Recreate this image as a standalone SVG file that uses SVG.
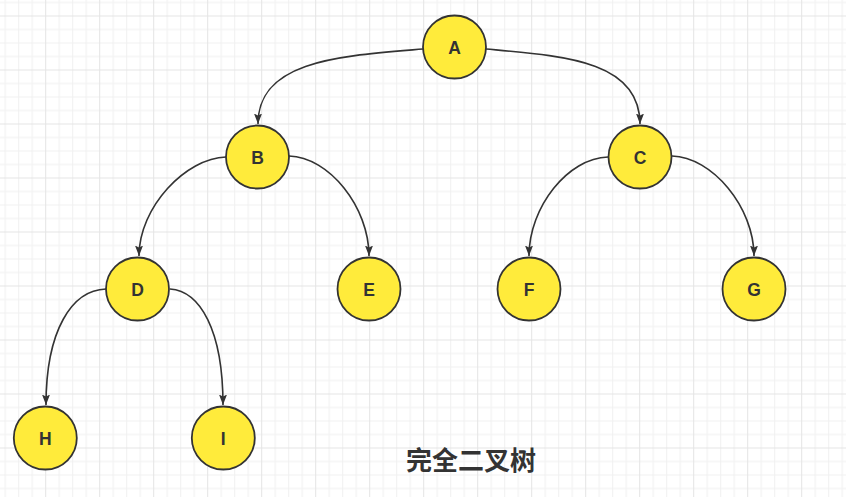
<svg xmlns="http://www.w3.org/2000/svg" width="846" height="497" viewBox="0 0 846 497">
<style>
.node circle{fill:#FFEB3B;stroke:#333333;stroke-width:1.8}
.node text{font-family:"Liberation Sans",Arial,sans-serif;font-weight:bold;font-size:17.5px;fill:#333333;text-anchor:middle}
.edge{fill:none;stroke:#333333;stroke-width:1.6;marker-end:url(#arr)}
.title{font-family:"Noto Sans CJK SC","Liberation Sans",sans-serif;font-weight:bold;font-size:26px;fill:#333333;text-anchor:middle}
</style>
<defs>
<pattern id="grid" patternUnits="userSpaceOnUse" x="45.2" y="15.5" width="54" height="54">
<rect x="13.5" y="0" width="1" height="54" fill="#f0f0f0"/>
<rect x="27" y="0" width="1" height="54" fill="#f0f0f0"/>
<rect x="40.5" y="0" width="1" height="54" fill="#f0f0f0"/>
<rect x="0" y="13.5" width="54" height="1" fill="#f0f0f0"/>
<rect x="0" y="27" width="54" height="1" fill="#f0f0f0"/>
<rect x="0" y="40.5" width="54" height="1" fill="#f0f0f0"/>
<rect x="0" y="0" width="1" height="54" fill="#e4e4e4"/>
<rect x="0" y="0" width="54" height="1" fill="#e4e4e4"/>
</pattern>
<marker id="arr" markerUnits="userSpaceOnUse" markerWidth="11" markerHeight="9" refX="10.5" refY="4.5" orient="auto">
<path d="M0,0.5 L10.5,4.5 L0,8.5 L2,4.5 z" fill="#333333"/>
</marker>
</defs>
<rect width="846" height="497" fill="#ffffff"/>
<rect width="846" height="497" fill="url(#grid)"/>
<g id="connectors">
<path class="edge" d="M423,49 C340,56 258,60 258,124"/>
<path class="edge" d="M486,49 C563,56 640,60 640,124"/>
<path class="edge" d="M226,157 C186,158 139,207 139,256"/>
<path class="edge" d="M289,156 C329,157 369,207 369,256"/>
<path class="edge" d="M608,157 C568,158 529,207 529,256"/>
<path class="edge" d="M672,156 C712,157 754,207 754,256"/>
<path class="edge" d="M106,289 C72,290 46,330 46,405"/>
<path class="edge" d="M170,289 C200,291 223,330 223,405"/>
</g>
<g id="node-A" class="node"><circle cx="454.5" cy="47" r="31.5"/><text x="454.5" y="53.5">A</text></g>
<g id="node-B" class="node"><circle cx="257.5" cy="157" r="31.5"/><text x="257.5" y="163.5">B</text></g>
<g id="node-C" class="node"><circle cx="640" cy="157" r="31.5"/><text x="640" y="163.5">C</text></g>
<g id="node-D" class="node"><circle cx="137.5" cy="289" r="31.5"/><text x="137.5" y="295.5">D</text></g>
<g id="node-E" class="node"><circle cx="369" cy="289" r="31.5"/><text x="369" y="295.5">E</text></g>
<g id="node-F" class="node"><circle cx="529" cy="289" r="31.5"/><text x="529" y="295.5">F</text></g>
<g id="node-G" class="node"><circle cx="754" cy="289" r="31.5"/><text x="754" y="295.5">G</text></g>
<g id="node-H" class="node"><circle cx="45.3" cy="438" r="31.5"/><text x="45.3" y="444.5">H</text></g>
<g id="node-I" class="node"><circle cx="223.3" cy="438" r="31.5"/><text x="223.3" y="444.5">I</text></g>
<text class="title" x="471" y="470">完全二叉树</text>
</svg>
